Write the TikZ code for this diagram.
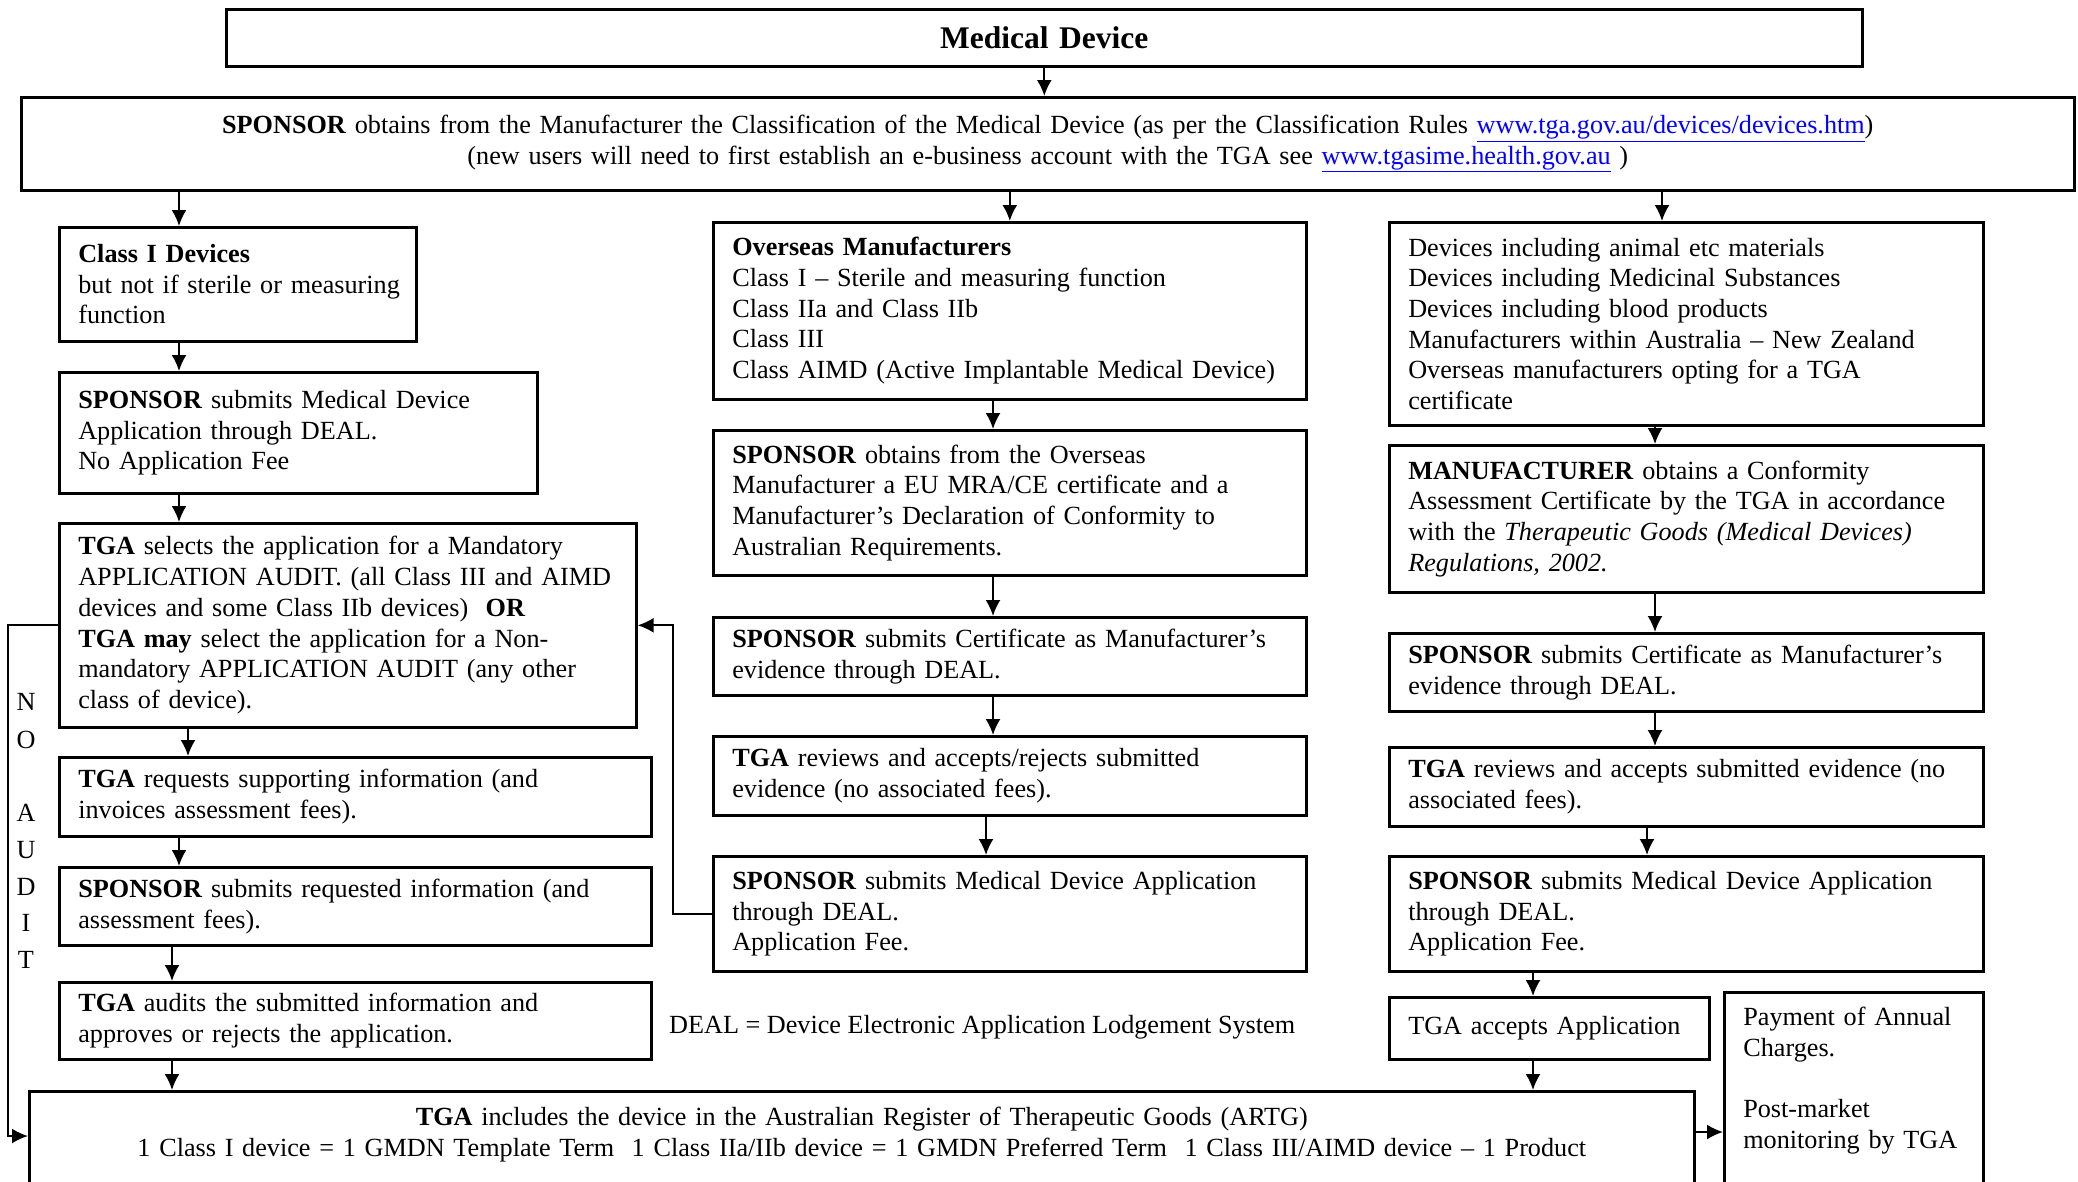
\documentclass[tikz,border=0pt]{standalone}
\usepackage{fontspec}
\setmainfont{Liberation Serif}
\usepackage{xcolor}
\usetikzlibrary{arrows.meta}
\newcommand{\lnk}[1]{{\color{blue}\underline{#1}}}

\begin{document}
\begin{tikzpicture}[x=1pt, y=-1pt, >={Latex[length=16pt,width=15pt]},
	font=\fontsize{26.2}{30.7}\selectfont,
	blk/.style={draw, line width=2.6pt, anchor=north west, align=left, inner xsep=19pt, inner ysep=0pt},
	arr/.style={->, line width=2pt}]
	\useasboundingbox (0,0) rectangle (2078,1181);
	%Testa
	\node [blk, align=center, minimum width=1636pt, minimum height=57pt, text width=1598pt, font=\fontsize{31.5}{34}\selectfont\bfseries] (md) at (225,8) {Medical Device};
	\node [blk, align=center, minimum width=2053pt, minimum height=93pt, text width=2015pt] (spon) at (20,96) {\textbf{SPONSOR} obtains from the Manufacturer the Classification of the Medical Device (as per the Classification Rules \lnk{www.tga.gov.au/devices/devices.htm})\\(new users will need to first establish an e-business account with the TGA see \lnk{www.tgasime.health.gov.au} )};
	%Colonna sinistra
	\node [blk, minimum width=357pt, minimum height=114pt, text width=319pt] (classi) at (58,226) {\textbf{Class I Devices}\\\mbox{but not if sterile or measuring}\\function};
	\node [blk, minimum width=478pt, minimum height=121pt, text width=440pt] (subleft) at (58,371) {\textbf{SPONSOR} submits Medical Device\\Application through DEAL.\\No Application Fee};
	\node [blk, minimum width=577pt, minimum height=204pt, text width=539pt] (audsel) at (58,522) {\textbf{TGA} selects the application for a Mandatory\\APPLICATION AUDIT. (all Class III and AIMD\\devices and some Class IIb devices)\ \ \textbf{OR}\\\textbf{TGA may} select the application for a Non-\\mandatory APPLICATION AUDIT (any other\\class of device).};
	\node [blk, minimum width=592pt, minimum height=79pt, text width=554pt] (reqinfo) at (58,756) {\textbf{TGA} requests supporting information (and\\invoices assessment fees).};
	\node [blk, minimum width=592pt, minimum height=78pt, text width=554pt] (subinfo) at (58,866) {\textbf{SPONSOR} submits requested information (and\\assessment fees).};
	\node [blk, minimum width=592pt, minimum height=77pt, text width=554pt] (audit) at (58,981) {\textbf{TGA} audits the submitted information and\\approves or rejects the application.};
	%Colonna centrale
	\node [blk, minimum width=593pt, minimum height=177pt, text width=555pt] (overseas) at (712,221) {\textbf{Overseas Manufacturers}\\Class I -- Sterile and measuring function\\Class IIa and Class IIb\\Class III\\Class AIMD (Active Implantable Medical Device)};
	\node [blk, minimum width=593pt, minimum height=145pt, text width=555pt] (mraobt) at (712,429) {\textbf{SPONSOR} obtains from the Overseas\\Manufacturer a EU MRA/CE certificate and a\\Manufacturer's Declaration of Conformity to\\Australian Requirements.};
	\node [blk, minimum width=593pt, minimum height=78pt, text width=555pt] (certmid) at (712,616) {\textbf{SPONSOR} submits Certificate as Manufacturer's\\evidence through DEAL.};
	\node [blk, minimum width=593pt, minimum height=79pt, text width=555pt] (revmid) at (712,735) {\textbf{TGA} reviews and accepts/rejects submitted\\evidence (no associated fees).};
	\node [blk, minimum width=593pt, minimum height=115pt, text width=555pt] (appmid) at (712,855) {\textbf{SPONSOR} submits Medical Device Application\\through DEAL.\\Application Fee.};
	\node [anchor=west, inner sep=0pt] (deal) at (669,1027) {DEAL = Device Electronic Application Lodgement System};
	%Colonna destra
	\node [blk, minimum width=594pt, minimum height=203pt, text width=556pt] (animal) at (1388,221) {Devices including animal etc materials\\Devices including Medicinal Substances\\Devices including blood products\\Manufacturers within Australia -- New Zealand\\Overseas manufacturers opting for a TGA\\certificate};
	\node [blk, minimum width=594pt, minimum height=147pt, text width=556pt] (conform) at (1388,444) {\textbf{MANUFACTURER} obtains a Conformity\\Assessment Certificate by the TGA in accordance\\with the \textit{Therapeutic Goods (Medical Devices)}\\\textit{Regulations, 2002.}};
	\node [blk, minimum width=594pt, minimum height=78pt, text width=556pt] (certright) at (1388,632) {\textbf{SPONSOR} submits Certificate as Manufacturer's\\evidence through DEAL.};
	\node [blk, minimum width=594pt, minimum height=79pt, text width=556pt] (revright) at (1388,746) {\textbf{TGA} reviews and accepts submitted evidence (no\\associated fees).};
	\node [blk, minimum width=594pt, minimum height=115pt, text width=556pt] (appright) at (1388,855) {\textbf{SPONSOR} submits Medical Device Application\\through DEAL.\\Application Fee.};
	\node [blk, minimum width=320pt, minimum height=62pt, text width=282pt] (accept) at (1388,996) {TGA accepts Application};
	\node [blk, minimum width=259pt, text width=221pt, text height=33pt, text depth=250pt] (annual) at (1723,991) {Payment of Annual\\Charges.\\[30.7pt]Post-market\\monitoring by TGA};
	%ARTG
	\node [blk, align=center, minimum width=1665pt, text width=1627pt, text height=34pt, text depth=120pt] (artg) at (28,1090) {\textbf{TGA} includes the device in the Australian Register of Therapeutic Goods (ARTG)\\1 Class I device = 1 GMDN Template Term\ \ 1 Class IIa/IIb device = 1 GMDN Preferred Term\ \ 1 Class III/AIMD device -- 1 Product};
	%NO AUDIT
	\node (nn) at (26,702) {N};
	\node (no) at (26,740) {O};
	\node (na) at (26,813) {A};
	\node (nu) at (26,850) {U};
	\node (nd) at (26,887) {D};
	\node (ni) at (26,923) {I};
	\node (nt) at (26,960) {T};
	%Punti
	\coordinate (xl) at (179,0);
	\coordinate (xl2) at (188,0);
	\coordinate (xl3) at (172,0);
	\coordinate (xm) at (993,0);
	\coordinate (xm2) at (986,0);
	\coordinate (xr) at (1655,0);
	\coordinate (xr2) at (1647,0);
	\coordinate (xr3) at (1662,0);
	\coordinate (xa) at (1533,0);
	\coordinate (fb) at (673,0);
	\coordinate (noline) at (8,1136);
	\coordinate (py) at (0,1132);
	%Frecce
	\draw [arr] (md.south) -- (md.south |- spon.north);
	\draw [arr] (spon.south -| xl) -- (classi.north -| xl);
	\draw [arr] (spon.south -| overseas.north) -- (overseas.north);
	\draw [arr] (spon.south -| xr3) -- (animal.north -| xr3);
	\draw [arr] (classi.south -| xl) -- (subleft.north -| xl);
	\draw [arr] (subleft.south -| xl) -- (audsel.north -| xl);
	\draw [arr] (audsel.south -| xl2) -- (reqinfo.north -| xl2);
	\draw [arr] (reqinfo.south -| xl) -- (subinfo.north -| xl);
	\draw [arr] (subinfo.south -| xl3) -- (audit.north -| xl3);
	\draw [arr] (audit.south -| xl3) -- (artg.north -| xl3);
	\draw [arr] (overseas.south -| xm) -- (mraobt.north -| xm);
	\draw [arr] (mraobt.south -| xm) -- (certmid.north -| xm);
	\draw [arr] (certmid.south -| xm) -- (revmid.north -| xm);
	\draw [arr] (revmid.south -| xm2) -- (appmid.north -| xm2);
	\draw [arr] (animal.south -| xr) -- (conform.north -| xr);
	\draw [arr] (conform.south -| xr) -- (certright.north -| xr);
	\draw [arr] (certright.south -| xr) -- (revright.north -| xr);
	\draw [arr] (revright.south -| xr2) -- (appright.north -| xr2);
	\draw [arr] (appright.south -| xa) -- (accept.north -| xa);
	\draw [arr] (accept.south -| xa) -- (artg.north -| xa);
	\draw [arr] (artg.east |- py) -- (annual.west |- py);
	%Ritorni
	\draw [arr] (audsel.west) -| (noline) -- (artg.west |- noline);
	\draw [arr] (appmid.west) -| (fb |- audsel.east) -- (audsel.east);
\end{tikzpicture}
\end{document}
